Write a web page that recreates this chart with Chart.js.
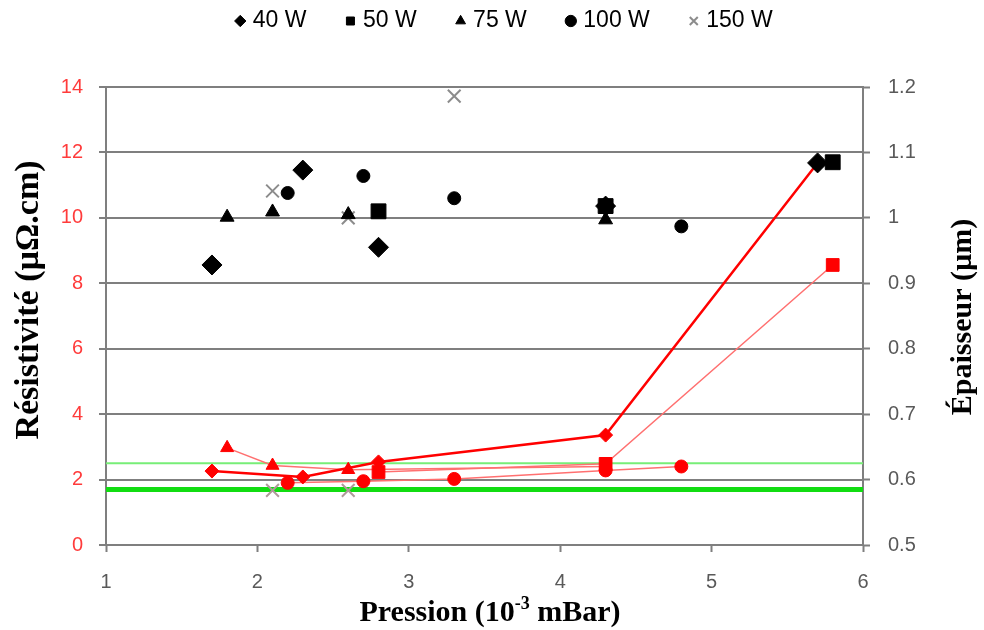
<!DOCTYPE html>
<html>
<head>
<meta charset="utf-8">
<script src="https://cdn.jsdelivr.net/npm/chart.js@4"></script>
<style>
  html, body { margin: 0; padding: 0; background: #fff; }
</style>
</head>
<body>
<canvas id="chart" width="984" height="630"></canvas>
<script>
// Pression (10^-3 mBar) for each power
const press40 = [1.7, 2.3, 2.8, 4.3, 5.7];
const press50 = [2.8, 4.3, 5.8];
const press75 = [1.8, 2.1, 2.6, 4.3];
const press100 = [2.2, 2.7, 3.3, 4.3, 4.8];
const press150 = [2.1, 2.6, 3.3];
const press150Res = [2.1, 2.6];

// Épaisseur (µm) - black markers, right axis
const thick40 = [0.928, 1.073, 0.955, 1.018, 1.084];
const thick50 = [1.010, 1.018, 1.085];
const thick75 = [1.001, 1.009, 1.005, 0.997];
const thick100 = [1.038, 1.064, 1.030, 1.016, 0.987];
const thick150 = [1.041, 1.000, 1.186];

// Résistivité (µΩ.cm) - red markers, left axis
const res40 = [2.26, 2.08, 2.54, 3.36, 11.68];
const res50 = [2.23, 2.48, 8.56];
const res75 = [2.97, 2.43, 2.30, 2.40];
const res100 = [1.90, 1.95, 2.02, 2.28, 2.40];
const res150 = [1.67, 1.67];

// horizontal green reference lines
const refX = [1, 6];
const refHigh = [2.5, 2.5];
const refLow = [1.7, 1.7];

const powerLabels = ["40 W", "50 W", "75 W", "100 W", "150 W"];

const pts = (xs, ys) => xs.map((x, i) => ({ x: x, y: ys[i] }));

function blackSet(label, xs, ys, style, radius, color) {
    return {
        label: label,
        data: pts(xs, ys),
        yAxisID: "y1",
        showLine: false,
        pointStyle: style,
        pointRadius: radius,
        pointHoverRadius: radius,
        backgroundColor: color,
        borderColor: color,
        pointBorderWidth: style === "crossRot" ? 2 : 1,
        order: 0
    };
}

function redSet(label, xs, ys, style, radius, lineColor, lineWidth) {
    return {
        label: label,
        data: pts(xs, ys),
        yAxisID: "y",
        showLine: true,
        tension: 0,
        borderColor: lineColor,
        borderWidth: lineWidth,
        pointStyle: style,
        pointRadius: radius,
        pointHoverRadius: radius,
        pointBackgroundColor: "#ff0000",
        pointBorderColor: "#ff0000",
        pointBorderWidth: 1,
        order: 1
    };
}

const datasets = [
    blackSet(powerLabels[0], press40, thick40, "rectRot", 10, "#000"),
    blackSet(powerLabels[1], press50, thick50, "rect", 10.5, "#000"),
    blackSet(powerLabels[2], press75, thick75, "triangle", 8, "#000"),
    blackSet(powerLabels[3], press100, thick100, "circle", 6.5, "#000"),
    blackSet(powerLabels[4], press150, thick150, "crossRot", 9, "#8c8c8c"),
    redSet("r40", press40, res40, "rectRot", 7, "#ff0000", 2.5),
    redSet("r50", press50, res50, "rect", 9, "#ff7070", 1.5),
    redSet("r75", press75, res75, "triangle", 7.5, "#ff7070", 1.5),
    redSet("r100", press100, res100, "circle", 6.5, "#ff7070", 1.5),
    {
        label: "r150", data: pts(press150Res, res150), yAxisID: "y", showLine: false,
        pointStyle: "crossRot", pointRadius: 9, borderColor: "#b09a9a", backgroundColor: "#b09a9a",
        pointBorderWidth: 2, order: 1
    },
    {
        label: "refHigh", data: pts(refX, refHigh), yAxisID: "y", borderColor: "#77ee77",
        borderWidth: 2, pointRadius: 0, order: 2
    },
    {
        label: "refLow", data: pts(refX, refLow), yAxisID: "y", borderColor: "#11dd11",
        borderWidth: 5, pointRadius: 0, order: 2
    }
];

const LEGEND_PAD = 43;
const LEGEND_FONT = 23;

function rotatedText(ctx, text, x, y, size) {
    ctx.save();
    ctx.translate(x, y);
    ctx.rotate(-Math.PI / 2);
    ctx.font = "bold " + size + 'px "Liberation Serif"';
    ctx.fillStyle = "#000";
    ctx.textAlign = "center";
    ctx.textBaseline = "middle";
    ctx.fillText(text, 0, 0);
    ctx.restore();
}

// axis titles (both read bottom-to-top, x title has a superscript)
const axisTitles = {
    id: "axisTitles",
    afterLayout(chart) {
        // legend row sits close to the top edge
        chart.legend.top = 21 - LEGEND_FONT / 2 - LEGEND_PAD;
        chart.legend.left += 14;
        chart.legend.right += 14;
    },
    afterDraw(chart) {
        const ctx = chart.ctx;
        rotatedText(ctx, "Résistivité (µΩ.cm)", 29, 300, 34);
        rotatedText(ctx, "Épaisseur (µm)", 963, 317, 30);

        const main = 'bold 30px "Liberation Serif"';
        const sup = 'bold 18px "Liberation Serif"';
        const parts = [["Pression (10", main, 0], ["-3", sup, -12], [" mBar)", main, 0]];
        ctx.save();
        ctx.fillStyle = "#000";
        ctx.textBaseline = "alphabetic";
        ctx.textAlign = "left";
        let total = 0;
        parts.forEach(p => { ctx.font = p[1]; total += ctx.measureText(p[0]).width; });
        let x = 490 - total / 2;
        parts.forEach(p => {
            ctx.font = p[1];
            ctx.fillText(p[0], x, 621 + p[2]);
            x += ctx.measureText(p[0]).width;
        });
        ctx.restore();
    }
};

const axisGray = "#7f7f7f";
const tickFont = { family: "Liberation Sans", size: 20 };

new Chart(document.getElementById("chart"), {
    type: "line",
    data: { datasets: datasets },
    plugins: [axisTitles],
    options: {
        responsive: false,
        animation: false,
        layout: { padding: { top: 87 - (LEGEND_FONT + LEGEND_PAD + 10), left: 0, right: 0, bottom: 0 } },
        plugins: {
            tooltip: { enabled: false },
            legend: {
                position: "top",
                labels: {
                    usePointStyle: true,
                    boxWidth: 2,
                    boxHeight: 8,
                    padding: LEGEND_PAD,
                    color: "#000",
                    font: { family: "Liberation Sans", size: LEGEND_FONT },
                    filter: item => item.datasetIndex < 5
                }
            }
        },
        scales: {
            x: {
                type: "linear",
                min: 1,
                max: 6,
                ticks: { stepSize: 1, color: "#595959", padding: 18, font: tickFont },
                grid: { drawOnChartArea: false, drawTicks: true, tickLength: 7, tickColor: axisGray, tickWidth: 2 },
                border: { display: true, color: axisGray, width: 2 },
                afterFit(scale) { scale.height = 85; }
            },
            y: {
                position: "left",
                min: 0,
                max: 14,
                ticks: { stepSize: 2, color: "#ff3b3b", padding: 16, font: tickFont },
                grid: { color: axisGray, lineWidth: 2, tickLength: 7, tickColor: axisGray },
                border: { display: true, color: axisGray, width: 2 },
                afterFit(scale) { scale.width = 106; }
            },
            y1: {
                position: "right",
                min: 0.5,
                max: 1.2,
                ticks: {
                    stepSize: 0.1, color: "#595959", padding: 18, font: tickFont,
                    callback: v => String(Math.round(v * 10) / 10)
                },
                grid: { drawOnChartArea: false, tickLength: 7, tickColor: axisGray, tickWidth: 2 },
                border: { display: true, color: axisGray, width: 2 },
                afterFit(scale) { scale.width = 121; }
            }
        }
    }
});
</script>
</body>
</html>
